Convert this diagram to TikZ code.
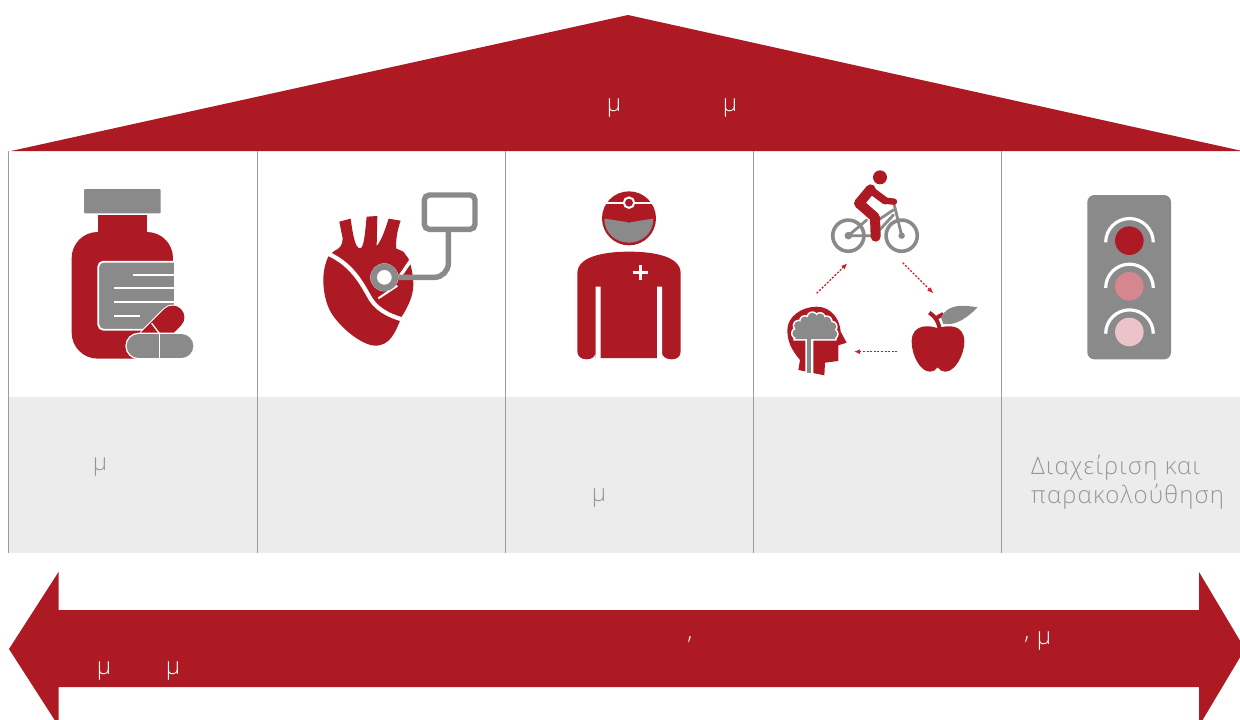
\documentclass[tikz,border=0pt]{standalone}
\usepackage{fontspec}
\setmainfont{Open Sans Light}[LetterSpace=5]
\usepackage{xcolor}
\usepackage{tikz}
\usetikzlibrary{arrows.meta,positioning,calc}
\definecolor{rouge}{HTML}{AE1A24}
\definecolor{vif}{HTML}{CC1F2A}
\definecolor{grisI}{HTML}{8A8A8A}
\definecolor{grisT}{HTML}{969696}
\definecolor{grisB}{HTML}{ECECEC}
\definecolor{grisL}{HTML}{9C9C9C}
\definecolor{feuM}{HTML}{D6868E}
\definecolor{feuC}{HTML}{EBC3C8}
\tikzset{
  fondrouge/.style={fill=rouge, draw=none},
  sep/.style={draw=grisL, line width=0.9pt},
  txtW/.style={text=white, font=\fontsize{24}{28}\selectfont, inner sep=0pt},
  txtG/.style={text=grisT, font=\fontsize{24}{29}\selectfont, inner sep=0pt, align=left},
  cyc/.style={-{Latex[length=6pt,width=5pt]}, draw=vif, line width=1.3pt, dash pattern=on 2pt off 1.6pt},
  roue/.style={draw=grisI, line width=3.6pt},
  cadre/.style={draw=grisI, line width=2.8pt, line cap=round},
  zoomI/.style={x=0.33333pt, y=-0.33333pt},
}
\begin{document}
\begin{tikzpicture}[x=1pt, y=-1pt]
    \useasboundingbox (0,0) rectangle (1240,720);
    \fill[white] (0,0) rectangle (1240,720);
    \fill[fondrouge] (11,151) -- (628,15) -- (1240,150.5) -- (1240,151) -- cycle;
    \fill[grisB] (8,397) rectangle (1240,553);
    \foreach \xs in {8.5,257,505,753,1001}
      \draw[sep] (\xs,151) -- (\xs,553);
    \fill[fondrouge] (9,649) -- (58.5,572) -- (58.5,610) -- (1199,610) -- (1199,572) -- (1245,649)
      -- (1199,726) -- (1199,687) -- (58.5,687) -- (58.5,726) -- cycle;

    \begin{scope}[shift={(40,170)}, zoomI]
      \fill[grisI, rounded corners=1pt] (132,57) rectangle (362,130);
      \fill[rouge] (173,134) rectangle (321,190);
      \fill[rouge, rounded corners=26pt] (95,186) rectangle (399,566);
      \fill[grisI, draw=white, line width=1.8pt, rounded corners=5pt] (175,275) -- (175,479) -- (420,479) -- (420,275) -- cycle;
      \fill[white] (401,262) rectangle (425,495);
      \draw[white, line width=1.7pt] (278,314) -- (401,314) (222,355) -- (401,355) (222,397) -- (401,397) (222,438) -- (300,438);
      \draw[white, line width=25.5pt, line cap=round] (398,442) -- (330,510);
      \draw[rouge, line width=23.5pt, line cap=round] (398,442) -- (330,510);
      \draw[white, line width=1.3pt] (335,460) -- (358,490);
      \fill[grisI, draw=white, line width=1.2pt, rounded corners=12.5pt] (258,490) rectangle (462,566);
      \draw[white, line width=1.4pt] (359,490) -- (359,566);
    \end{scope}

    \begin{scope}[shift={(40,170)}, zoomI]
      \fill[rouge] (850,330) .. controls (850,300) and (858,270) .. (868,255) -- (883,243)
        .. controls (900,235) and (908,225) .. (908,205) -- (898,155) -- (932,146)
        .. controls (938,190) and (945,235) .. (960,235) .. controls (972,235) and (975,190) .. (980,140)
        -- (1012,138) -- (1010,228) .. controls (1025,210) and (1035,180) .. (1046,146) -- (1082,152)
        .. controls (1072,180) and (1068,205) .. (1068,235) -- (1090,245) -- (1105,265)
        .. controls (1115,290) and (1120,320) .. (1120,345) .. controls (1120,375) and (1105,410) .. (1085,440)
        .. controls (1065,490) and (1050,527) .. (1005,527) .. controls (975,527) and (920,490) .. (885,445)
        .. controls (860,415) and (850,370) .. (850,330) -- cycle;
      \draw[white, line width=4.2pt] (862,250) .. controls (930,280) and (960,330) .. (985,375) .. controls (1005,415) and (1040,435) .. (1092,450);
      \draw[white, line width=3.4pt] (1078,322) -- (1112,272);
      \draw[white, line width=2pt] (1015,385) -- (1072,347);
      \draw[grisI, line width=5.4pt, rounded corners=14pt] (1225,186) -- (1225,322) -- (1075,322);
      \draw[grisI, line width=5.4pt, rounded corners=5pt] (1153,75) rectangle (1305,178);
      \fill[white] (1033,322) circle[radius=14pt];
      \draw[grisI, line width=6.4pt] (1033,322) circle[radius=10.7pt];
    \end{scope}

    \begin{scope}[shift={(560,160)}, zoomI]
      \fill[rouge] (207,175) circle[radius=27pt];
      \fill[grisI] (133,176) .. controls (160,180) and (185,183) .. (207,188) .. controls (230,183) and (255,180) .. (280,176)
        .. controls (280,220) and (245,248) .. (207,248) .. controls (168,248) and (133,220) .. (133,176) -- cycle;
      \draw[white, line width=2pt] (138,128) -- (276,128);
      \fill[rouge] (207,128) circle[radius=5.2pt];
      \draw[white, line width=2pt] (207,128) circle[radius=5.2pt];
      \fill[rouge] (52,340) .. controls (52,290) and (130,275) .. (207,275) .. controls (285,275) and (362,290) .. (362,340)
        -- (362,575) .. controls (362,590) and (350,598) .. (335,598) .. controls (318,598) and (306,590) .. (306,575)
        -- (306,594) -- (107,594) -- (107,575) .. controls (107,590) and (95,598) .. (80,598) .. controls (65,598) and (52,590) .. (52,575) -- cycle;
      \fill[white] (107,380) rectangle (122,600) (291,380) rectangle (306,600);
      \draw[white, line width=2.8pt] (241,315) -- (241,360) (218,338) -- (264,338);
    \end{scope}

    \begin{scope}[shift={(560,160)}, zoomI]
      \draw[roue] (865,227) circle[radius=15.6pt] (1025,227) circle[radius=15.6pt];
      \fill[grisI] (865,227) circle[radius=3.8pt] (1025,227) circle[radius=3.2pt];
      \draw[cadre] (865,227) -- (920,180) (865,227) -- (945,227) (1025,227) -- (1003,135) (945,225) -- (1000,165) (955,180) -- (1000,150);
      \fill[rouge] (960,52) circle[radius=7pt];
      \draw[rouge, line width=6.4pt, line join=round, line cap=round] (975,122) -- (1002,125);
      \draw[rouge, line width=10pt, line join=round, line cap=round] (932,88) -- (897,130) -- (945,172) -- (947,230);
      \draw[rouge, line width=7.5pt, line join=round, line cap=round] (932,90) -- (975,122);
      \coordinate (teteA) at (770,400);
      \coordinate (veloG) at (862,310);
      \coordinate (veloD) at (1028,308);
      \coordinate (pommeH) at (1120,400);
      \coordinate (pommeG) at (1012,575);
      \coordinate (teteD) at (882,575);
      \draw[cyc] (teteA) -- (veloG);
      \draw[cyc] (veloD) -- (pommeH);
      \draw[cyc] (pommeG) -- (teteD);
      \fill[rouge] (715,630) -- (720,600) .. controls (695,570) and (682,545) .. (682,510) .. controls (682,470) and (725,440) .. (770,440)
        .. controls (815,440) and (840,480) .. (842,515) -- (860,548) -- (835,556) -- (835,603) -- (795,608) -- (793,646) -- cycle;
      \foreach \bx/\by in {711/520,716/497,735/483,757/472,780/474,800/484,815/500,818/522}
        \fill[white] (\bx,\by) circle[radius=6pt];
      \fill[white] (700,520) rectangle (830,542) (736,530) rectangle (760,640);
      \foreach \bx/\by in {711/520,716/497,735/483,757/472,780/474,800/484,815/500,818/522}
        \fill[grisI] (\bx,\by) circle[radius=4.6pt];
      \fill[grisI] (706,537) -- (711,510) -- (735,483) -- (757,472) -- (780,474) -- (800,484) -- (815,500) -- (825,537) -- cycle;
      \fill[grisI] (742,530) rectangle (753,640);
      \fill[rouge] (1133,505) .. controls (1110,495) and (1055,490) .. (1055,545) .. controls (1055,585) and (1080,635) .. (1110,635)
        .. controls (1120,635) and (1128,630) .. (1133,622) .. controls (1138,630) and (1146,635) .. (1156,635)
        .. controls (1185,635) and (1213,585) .. (1213,545) .. controls (1213,490) and (1160,495) .. (1133,505) -- cycle;
      \draw[rouge, line width=4pt] (1108,458) .. controls (1128,472) and (1136,485) .. (1139,510) (1132,472) -- (1150,462);
      \fill[grisI] (1143,472) .. controls (1165,430) and (1210,435) .. (1253,442) .. controls (1225,470) and (1190,498) .. (1150,492) -- cycle;
    \end{scope}

    \begin{scope}[shift={(1000,170)}, zoomI]
      \fill[grisI, rounded corners=7pt] (262,75) rectangle (513,568);
      \fill[rouge] (388,212) circle[radius=14.3pt];
      \fill[feuM] (388,349) circle[radius=14.3pt];
      \fill[feuC] (388,486) circle[radius=14.3pt];
      \foreach \ya in {217,354,491}
        \draw[white, line width=3.2pt] (317,\ya) arc[start angle=180, end angle=0, radius=23.8pt];
    \end{scope}

    \node[txtW] (mA) at (614,108.5) {μ};
    \node[txtW] (mB) at (730,108.5) {μ};
    \node[txtG] (mC) at (100,467.5) {μ};
    \node[txtG] (mD) at (599,498.5) {μ};
    \node[txtG, anchor=north west] (dk) at (1031,455) {Διαχείριση και\\παρακολούθηση};
    \node[txtW] (mE) at (104,671.5) {μ};
    \node[txtW] (mF) at (173,671.5) {μ};
    \node[txtW] (vA) at (690,640) {,};
    \node[txtW] (vB) at (1027,640) {,};
    \node[txtW] (mG) at (1044,641.5) {μ};
  \end{tikzpicture}
\end{document}
